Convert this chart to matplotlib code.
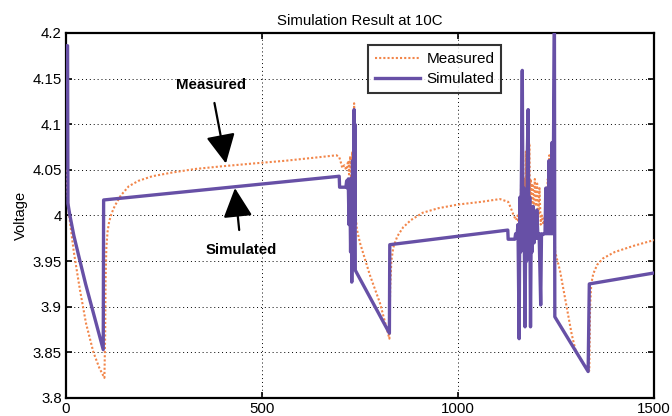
import matplotlib
matplotlib.use("Agg")
import matplotlib.pyplot as plt
from matplotlib.ticker import FormatStrFormatter

plt.rcParams['font.family'] = ['Liberation Sans', 'DejaVu Sans']

# Measured terminal voltage (time in s, voltage in V)
meas_t = [0, 3, 8, 20, 35, 51, 70, 85, 98,
          100, 101, 103, 106, 110, 116, 125, 140, 160, 185, 220, 270, 330, 400, 478, 560, 648, 690,
          697, 700, 705, 710, 715, 720, 722, 725, 728, 730, 732, 734, 735, 737, 739,
          742, 750, 775, 801, 825,
          827, 830, 835, 845, 860, 880, 910, 950, 1000, 1060, 1107, 1128,
          1135, 1142, 1148, 1152, 1155, 1157, 1159, 1161, 1163, 1165, 1167, 1169,
          1171, 1173, 1175, 1177, 1180, 1182, 1184, 1186, 1188, 1190, 1193, 1196,
          1199, 1202, 1205, 1208, 1211, 1214, 1218, 1222, 1225, 1227, 1229, 1231,
          1233, 1235, 1237, 1240, 1243, 1246, 1248, 1260, 1275, 1290, 1300, 1320,
          1335, 1337, 1340, 1345, 1355, 1370, 1400, 1450, 1500]
meas_v = [4.05, 4.03, 4.0, 3.96, 3.92, 3.882, 3.85, 3.833, 3.822,
          3.87, 3.93, 3.965, 3.982, 3.993, 4.002, 4.011, 4.022, 4.032, 4.038, 4.043, 4.047, 4.051, 4.054, 4.057, 4.06, 4.064, 4.066,
          4.064, 4.06, 4.052, 4.055, 4.05, 4.06, 4.045, 4.065, 4.03, 4.07, 4.05, 4.1, 4.123, 4.08, 4.0,
          3.985, 3.97, 3.935, 3.904, 3.865,
          3.92, 3.95, 3.965, 3.977, 3.987, 3.995, 4.003, 4.008, 4.012, 4.015, 4.018, 4.015,
          4.008, 4.0, 3.995, 4.0, 3.99, 4.02, 3.98, 4.04, 3.99, 4.06, 4.0, 4.04,
          3.99, 4.07, 4.0, 4.06, 3.995, 4.079, 4.0, 4.04, 4.01, 4.035, 4.0, 4.04,
          4.01, 4.035, 4.0, 4.03, 3.99, 4.0, 3.99, 4.0, 4.03, 3.99, 4.04, 4.0,
          4.066, 4.0, 4.06, 3.99, 4.03, 3.98, 3.96, 3.94, 3.905, 3.87, 3.852, 3.837,
          3.83, 3.9, 3.925, 3.936, 3.946, 3.953, 3.96, 3.967, 3.973]

# Simulated terminal voltage
sim_t = [0, 4, 5, 10, 20, 34, 50, 70, 95,
         96, 697, 698, 714, 716, 718, 720, 722, 724, 726, 728, 729, 731, 733, 735, 736, 737, 738,
         825, 826, 1127, 1128, 1145, 1147, 1150, 1153, 1156, 1158, 1160, 1162, 1164,
         1166, 1168, 1171, 1173, 1175, 1177, 1179, 1181, 1183, 1185, 1187, 1189, 1192,
         1194, 1197, 1199, 1201, 1204, 1207, 1211, 1213, 1216, 1220, 1222, 1224, 1226,
         1228, 1230, 1232, 1234, 1236, 1238, 1240, 1242, 1244, 1246, 1247,
         1332, 1335, 1500]
sim_v = [4.186, 4.186, 4.013, 4.0, 3.978, 3.953, 3.925, 3.893, 3.853,
         4.017, 4.043, 4.031, 4.031, 4.038, 4.03, 4.04, 3.99, 4.04, 3.96, 4.04, 3.927, 4.06, 4.0, 4.116, 3.99, 4.1, 3.94,
         3.871, 3.968, 3.984, 3.974, 3.974, 3.98, 3.975, 3.99, 3.865, 4.02, 3.96, 4.05, 4.159,
         3.97, 4.03, 3.878, 4.0, 3.95, 4.07, 4.116, 3.96, 4.02, 3.878, 4.0, 3.96, 4.01,
         3.97, 4.0, 3.975, 4.006, 3.975, 3.98, 3.902, 3.98, 3.979, 3.98, 3.98, 4.03, 3.98,
         4.03, 3.98, 4.06, 3.98, 4.06, 3.98, 4.08, 3.98, 4.1, 4.21, 3.889,
         3.829, 3.925, 3.937]

x_ticks = [0, 500, 1000, 1500]
y_ticks = [3.8, 3.85, 3.9, 3.95, 4.0, 4.05, 4.1, 4.15, 4.2]

fig = plt.figure(figsize=(6.72, 4.16), dpi=100)
ax = fig.add_axes([0.0982, 0.0433, 0.875, 0.8774])

ax.plot(meas_t, meas_v, color='#F2864A', lw=1.5, linestyle=(0, (1, 1)),
        label='Measured', zorder=3)
ax.plot(sim_t, sim_v, color='#6750A6', lw=2.4, label='Simulated', zorder=4)

ax.set_xlim(0, 1500)
ax.set_ylim(3.8, 4.2)
ax.set_xticks(x_ticks)
ax.set_yticks(y_ticks)
ax.yaxis.set_major_formatter(FormatStrFormatter('%g'))
ax.tick_params(direction='in', length=4, width=1.2, top=True, right=True,
               labelsize=10.8, colors='black', pad=3)
ax.grid(True, color='black', linestyle=(0, (1, 3)), linewidth=0.7)
for s in ax.spines.values():
    s.set_linewidth(1.6)

ax.set_title('Simulation Result at 10C', fontsize=10.8, pad=6)
ax.set_ylabel('Voltage', fontsize=10.5, labelpad=3)

leg = ax.legend(loc='upper left', bbox_to_anchor=(0.513, 0.967), fontsize=11,
                frameon=True, fancybox=False, edgecolor='black',
                borderpad=0.45, handlelength=3.0, labelspacing=0.4,
                handletextpad=0.4, borderaxespad=0)
leg.get_frame().set_linewidth(1.5)

arrow = dict(arrowstyle='-|>,head_width=0.45,head_length=0.9', color='black',
             lw=1.6, mutation_scale=20, shrinkA=6, shrinkB=0)
ax.annotate('Measured', xy=(408, 4.057), xytext=(370, 4.143),
            ha='center', va='center', fontsize=10.8, fontweight='bold',
            arrowprops=arrow)
ax.annotate('', xy=(431, 4.030), xytext=(444, 3.975), arrowprops=arrow)
ax.text(446, 3.962, 'Simulated', ha='center', va='center',
        fontsize=10.8, fontweight='bold')

fig.savefig('out.png', dpi=100)
